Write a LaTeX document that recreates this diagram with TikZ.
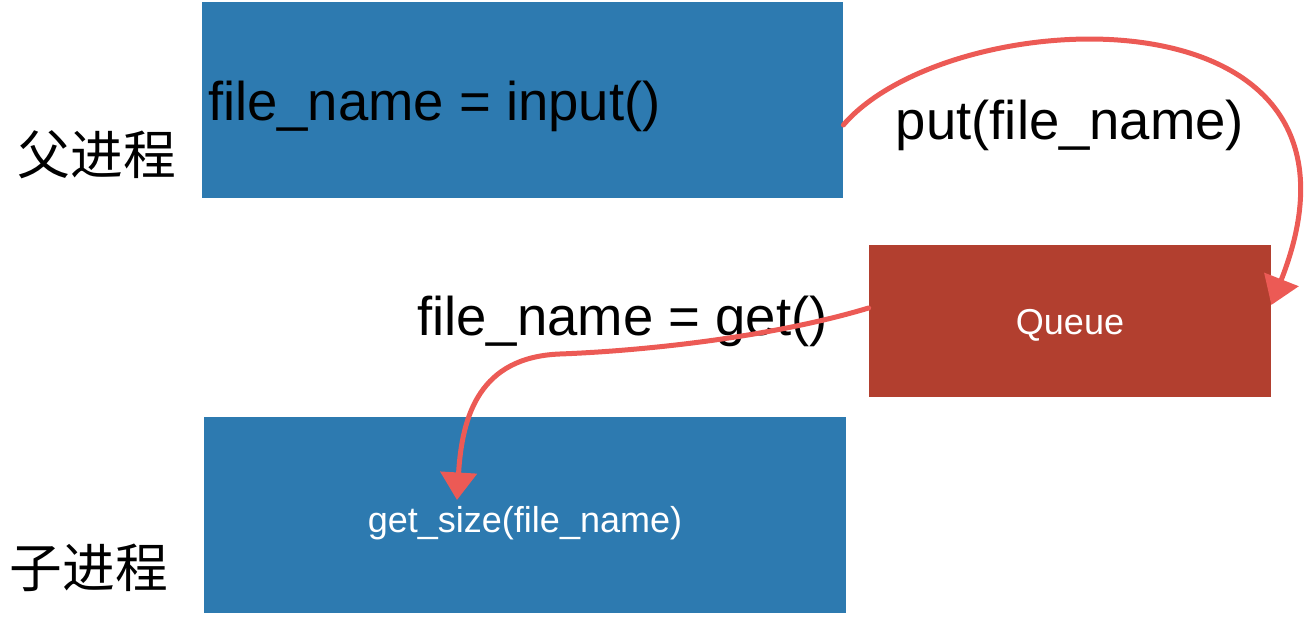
\documentclass[tikz,border=0pt]{standalone}
\usepackage{fontspec}
\setmainfont{Liberation Sans}
\newfontfamily\cjk{Noto Sans CJK SC}
\usetikzlibrary{positioning, calc, arrows.meta}
\definecolor{proccolor}{HTML}{2D7AB0}
\definecolor{queuecolor}{HTML}{B23F2F}
\definecolor{arrowcolor}{HTML}{EC5A55}

\begin{document}
\begin{tikzpicture}[
    box/.style={rectangle, draw=none, inner sep=0pt},
    proc/.style={box, fill=proccolor, minimum width=12.84cm, minimum height=3.92cm},
    queuebox/.style={box, fill=queuecolor, minimum width=8.04cm, minimum height=3.04cm},
    bigtxt/.style={inner sep=0pt, font=\fontsize{31}{36}\selectfont},
    smalltxt/.style={inner sep=0pt, text=white, font=\fontsize{20.5}{24}\selectfont},
    cjktxt/.style={inner sep=0pt, font=\cjk\fontsize{30}{36}\selectfont},
    redarrow/.style={-{Triangle[length=0.55cm, width=0.72cm]}, line width=0.1cm, draw=arrowcolor, line cap=round}
]
    \useasboundingbox (0, 0) rectangle (26.12, 12.44);

    % =========================================================================
    % PROCESSES
    % =========================================================================

    % Parent process
    \node (parent) [proc, minimum width=12.82cm] at (10.45, 10.44) {};
    \node (parent_code) [bigtxt, anchor=west] at ([xshift=0.12cm, yshift=-0.12cm]parent.west) {file\_name = input()};
    \node (parent_lbl) [cjktxt] at (1.94, 9.34) {父进程};

    % Child process
    \node (child) [proc] at (10.5, 2.14) {};
    \node (child_code) [smalltxt] at ([yshift=-0.16cm]child.center) {get\_size(file\_name)};
    \node (child_lbl) [cjktxt] at (1.78, 1.08) {子进程};

    % =========================================================================
    % QUEUE
    % =========================================================================
    \node (queue) [queuebox] at (21.4, 6.02) {};
    \node (queue_txt) [smalltxt] at ([yshift=-0.08cm]queue.center) {Queue};

    % Labels
    \node (put_lbl) [bigtxt] at (21.4, 9.94) {put(file\_name)};
    \node (get_lbl) [bigtxt, anchor=east] at (16.56, 6.02) {file\_name = get()};

    % Connections
    \coordinate (put_start) at ([yshift=-0.5cm]parent.east);
    \coordinate (put_end) at ([yshift=0.32cm]queue.east);
    \draw [redarrow] (put_start) .. controls +(2.14, 2.5) and +(2.56, 6.5) .. (put_end);

    \coordinate (get_start) at ([yshift=0.26cm]queue.west);
    \coordinate (get_bend) at (11.2, 5.36);
    \coordinate (get_end) at ([xshift=-1.36cm, yshift=0.3cm]child.center);
    \draw [redarrow] (get_start) .. controls +(-2.0, -0.6) and +(1.6, 0.06) .. (get_bend)
        .. controls +(-1.6, -0.06) and +(0.1, 1.7) .. (get_end);

\end{tikzpicture}
\end{document}
